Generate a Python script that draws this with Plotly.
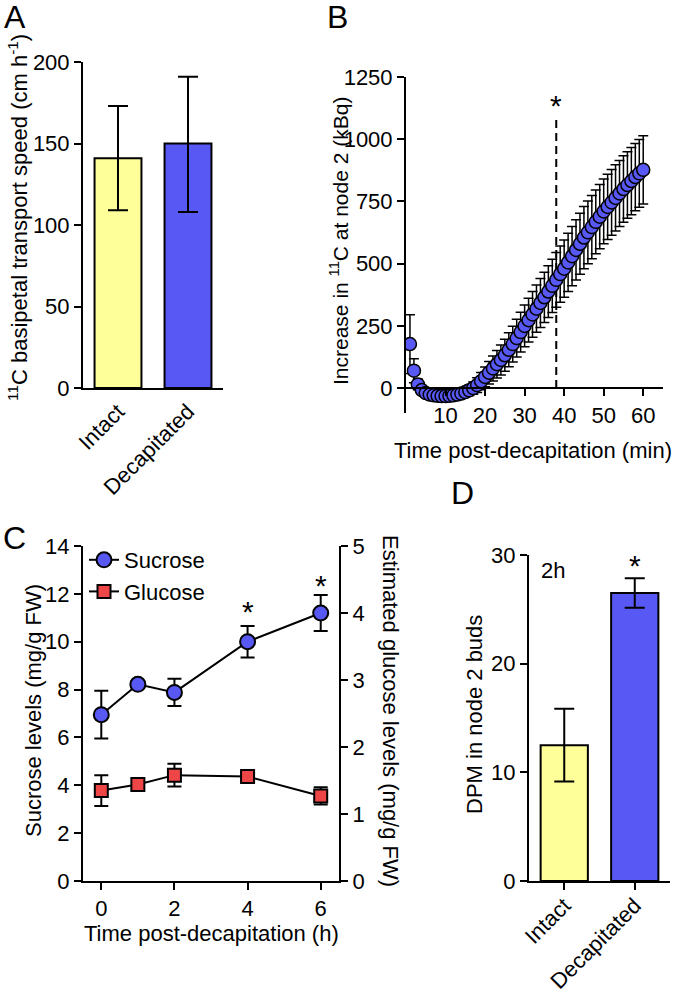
import plotly.graph_objects as go

W, H = 677, 992
FONT = "Liberation Sans, Arial, sans-serif"
BLUE = "#5858F4"
YELLOW = "#FFFF9A"
RED = "#EE4646"

# ---------------- Panel A data ----------------
a_categories = ["Intact", "Decapitated"]
a_speed = [141, 150]
a_err_plus = [32, 41]
a_err_minus = [32, 42]

# ---------------- Panel B data ----------------
b_time = list(range(1, 61))
b_signal = [177, 70, 15, -8, -20, -26, -29, -31, -32, -32,
            -31, -29, -26, -22, -16, -9, 0, 12, 28, 45,
            62, 79, 96, 113, 132, 154, 177, 201, 225, 250,
            273, 296, 319, 342, 365, 388, 411, 435, 458, 480,
            505, 530, 555, 580, 605, 626, 647, 668, 689, 710,
            728, 746, 764, 782, 800, 816, 832, 848, 863, 877]
b_err = [118, 48, 22, 14, 12, 10, 10, 10, 10, 10,
         10, 11, 12, 14, 17, 21, 25, 30, 35, 40,
         45, 50, 55, 60, 64, 68, 72, 76, 80, 84,
         88, 92, 95, 98, 101, 104, 107, 110, 113, 115,
         117, 119, 121, 123, 125, 126, 127, 128, 129, 130,
         131, 132, 133, 133, 134, 134, 135, 135, 136, 137]
b_sig_time = 38          # time of first significant difference (dashed line)
b_dash_range = [0, 1090]
b_star_y = 1160

# ---------------- Panel C data ----------------
c_time = [0, 1, 2, 4, 6]
c_sucrose = [6.95, 8.22, 7.88, 10.0, 11.2]
c_sucrose_err = [1.0, 0.15, 0.57, 0.66, 0.75]
c_glucose = [1.35, 1.44, 1.58, 1.56, 1.27]
c_glucose_err = [0.23, 0.08, 0.17, 0.04, 0.13]
c_star_time = [4, 6]
c_star_y = [11.5, 12.6]

# ---------------- Panel D data ----------------
d_categories = ["Intact", "Decapitated"]
d_dpm = [12.5, 26.5]
d_err = [3.35, 1.35]
d_star_y = 29.6


def px_x(p):
    return p / W


def px_y(p):
    return 1 - p / H


fig = go.Figure()

# A
fig.add_trace(go.Bar(
    x=[0, 1], y=a_speed, width=0.67,
    marker=dict(color=[YELLOW, BLUE], line=dict(color="black", width=2)),
    error_y=dict(type="data", symmetric=False, array=a_err_plus, arrayminus=a_err_minus,
                 color="black", thickness=2, width=10),
    xaxis="x", yaxis="y", showlegend=False))

# B
fig.add_trace(go.Scatter(
    x=[b_sig_time, b_sig_time], y=b_dash_range, mode="lines",
    line=dict(color="black", width=2, dash="8px,5px"),
    xaxis="x2", yaxis="y2", showlegend=False))
fig.add_trace(go.Scatter(
    x=b_time, y=b_signal, mode="markers",
    marker=dict(symbol="circle", size=13, color=BLUE, line=dict(color="black", width=1.5)),
    error_y=dict(type="data", array=b_err, color="black", thickness=1.5, width=5),
    xaxis="x2", yaxis="y2", showlegend=False))

# C
fig.add_trace(go.Scatter(
    x=c_time, y=c_sucrose, mode="lines+markers", name="Sucrose",
    line=dict(color="black", width=2),
    marker=dict(symbol="circle", size=15, color=BLUE, line=dict(color="black", width=2)),
    error_y=dict(type="data", array=c_sucrose_err, color="black", thickness=2, width=7),
    xaxis="x3", yaxis="y3"))
fig.add_trace(go.Scatter(
    x=c_time, y=c_glucose, mode="lines+markers", name="Glucose",
    line=dict(color="black", width=2),
    marker=dict(symbol="square", size=13, color=RED, line=dict(color="black", width=2)),
    error_y=dict(type="data", array=c_glucose_err, color="black", thickness=2, width=7),
    xaxis="x3", yaxis="y4"))

# D
fig.add_trace(go.Bar(
    x=[0, 1], y=d_dpm, width=0.67,
    marker=dict(color=[YELLOW, BLUE], line=dict(color="black", width=2)),
    error_y=dict(type="data", array=d_err, color="black", thickness=2, width=10),
    xaxis="x4", yaxis="y5", showlegend=False))

axis_common = dict(showline=True, linecolor="black", linewidth=2, showgrid=False,
                   zeroline=False, ticks="outside", ticklen=7, tickwidth=2, tickcolor="black",
                   tickfont=dict(family=FONT, size=22, color="black"), automargin=False)

b_y_range = [-100, 1250]
b_y_dom = [px_y(413), px_y(77)]
b_x_pos = b_y_dom[0] + (b_y_dom[1] - b_y_dom[0]) * (0 - b_y_range[0]) / (b_y_range[1] - b_y_range[0])

fig.update_layout(
    width=W, height=H, margin=dict(l=0, r=0, t=0, b=0),
    paper_bgcolor="white", plot_bgcolor="white", template="none",
    font=dict(family=FONT, size=22, color="black"),
    xaxis=dict(axis_common, domain=[px_x(83), px_x(223)], range=[-0.5, 1.5], anchor="y",
               tickvals=[0, 1], ticktext=a_categories, ticks="", tickangle=-45),
    yaxis=dict(axis_common, domain=[px_y(388), px_y(62)], range=[0, 200], anchor="x",
               tickvals=[0, 50, 100, 150, 200]),
    xaxis2=dict(axis_common, domain=[px_x(406), px_x(663)], range=[0, 65], anchor="free",
                position=b_x_pos, tickvals=[10, 20, 30, 40, 50, 60]),
    yaxis2=dict(axis_common, domain=b_y_dom, range=b_y_range, anchor="x2",
                tickvals=[0, 250, 500, 750, 1000, 1250]),
    xaxis3=dict(axis_common, domain=[px_x(83), px_x(339)], range=[-0.5, 6.5], anchor="y3",
                tickvals=[0, 2, 4, 6]),
    yaxis3=dict(axis_common, domain=[px_y(881), px_y(546)], range=[0, 14], anchor="x3",
                tickvals=[0, 2, 4, 6, 8, 10, 12, 14]),
    yaxis4=dict(axis_common, domain=[px_y(881), px_y(546)], range=[0, 5], anchor="x3",
                overlaying="y3", side="right", tickvals=[0, 1, 2, 3, 4, 5]),
    xaxis4=dict(axis_common, domain=[px_x(529), px_x(670)], range=[-0.5, 1.5], anchor="y5",
                tickvals=[0, 1], ticktext=d_categories, tickangle=-45, ticklabelstandoff=-6),
    yaxis5=dict(axis_common, domain=[px_y(881), px_y(555)], range=[0, 30], anchor="x4",
                tickvals=[0, 10, 20, 30]),
    legend=dict(x=px_x(84), y=px_y(539), xanchor="left", yanchor="top",
                bgcolor="rgba(0,0,0,0)", font=dict(family=FONT, size=22, color="black"),
                itemsizing="trace"),
)

ann = []


def label(text, x, y, size=22, angle=0, **kw):
    ann.append(dict(text=text, x=x, y=y, xref="paper", yref="paper", showarrow=False,
                    textangle=angle, font=dict(family=FONT, size=size, color="black"),
                    xanchor="center", yanchor="middle", **kw))


# panel letters
label("A", px_x(15), px_y(17), size=32)
label("B", px_x(337), px_y(17), size=32)
label("C", px_x(14), px_y(538), size=32)
label("D", px_x(462), px_y(493), size=32)

# axis titles
label("<sup>11</sup>C basipetal transport speed (cm h<sup>-1</sup>)", px_x(18), px_y(218), angle=-90)
label("Increase in <sup>11</sup>C at node 2 (kBq)", px_x(339), px_y(241), size=21, angle=-90)
label("Time post-decapitation (min)", px_x(533), px_y(450))
label("Sucrose levels (mg/g FW)", px_x(33), px_y(711), angle=-90)
label("Estimated glucose levels (mg/g FW)", px_x(391), px_y(711), angle=90)
label("Time post-decapitation (h)", px_x(212), px_y(933))
label("DPM in node 2 buds", px_x(474), px_y(715), angle=-90)
label("2h", px_x(553), px_y(570))


# asterisks
def star(x, y, xref, yref):
    ann.append(dict(text="*", x=x, y=y, xref=xref, yref=yref, showarrow=False,
                    font=dict(family=FONT, size=30, color="black"),
                    xanchor="center", yanchor="middle", yshift=-6))


star(b_sig_time, b_star_y, "x2", "y2")
for t, v in zip(c_star_time, c_star_y):
    star(t, v, "x3", "y3")
star(1, d_star_y, "x4", "y5")

fig.update_layout(annotations=ann)

fig.write_html("out.html", config={"displayModeBar": False},
               post_script="document.body.style.margin='0';document.body.style.padding='0';")
